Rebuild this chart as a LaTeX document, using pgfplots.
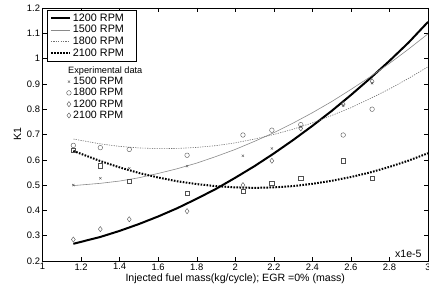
\documentclass[border=0pt]{standalone}
\usepackage{pgfplots}
\pgfplotsset{compat=1.18}
\usepackage{fontspec}
\setmainfont{Liberation Sans}
\definecolor{lgray}{HTML}{8A8A8A}
\definecolor{mgray}{HTML}{707070}
\definecolor{mk}{HTML}{505050}
\pgfplotsset{
  common/.style={
    scale only axis, width=385.5bp, height=253bp,
    xmin=1, xmax=3, ymin=0.2, ymax=1.2,
  }
}
\begin{document}
\begin{tikzpicture}
\begin{axis}[common,
  xtick={1,1.2,...,3.01}, ytick={0.2,0.3,...,1.21},
  tick pos=both, tick align=inside, major tick length=4bp,
  tick style={line width=0.4bp, black},
  axis line style={line width=0.5bp},
  /pgf/number format/assume math mode=true,
  /pgf/number format/fixed,
  ticklabel style={font=\fontsize{9.4bp}{10bp}\selectfont},
  yticklabel style={xshift=1bp},
  xticklabel style={yshift=1bp},
  xlabel={Injected fuel mass(kg/cycle); EGR =0\% (mass)},
  ylabel={K1},
  label style={font=\fontsize{10.6bp}{12bp}\selectfont},
  xlabel style={yshift=3bp},
  ylabel style={yshift=-1bp},
  legend style={at={(0.011,0.992)}, anchor=north west, draw=black, line width=0.5bp,
    font=\fontsize{10.8bp}{11.7bp}\selectfont, inner xsep=3bp, inner ysep=1.5bp,
    row sep=-1.4bp, cells={anchor=west}},
  legend cell align=left,
  legend image code/.code={\draw[#1] (0bp,0bp) -- (19bp,0bp);},
]
\addplot[black, line width=2bp] coordinates {
(1.16,0.268)(1.3,0.295)(1.4,0.319)(1.5,0.346)(1.6,0.376)(1.7,0.409)(1.8,0.446)(1.9,0.485)(2.0,0.529)(2.1,0.575)(2.2,0.625)(2.3,0.678)(2.4,0.734)(2.5,0.793)(2.6,0.856)(2.7,0.922)(2.8,0.991)(2.9,1.064)(3.0,1.145)};
\addlegendentry{1200 RPM\hspace*{7bp}}
\addplot[lgray, line width=0.6bp] coordinates {
(1.16,0.498)(1.3,0.507)(1.4,0.516)(1.5,0.529)(1.6,0.546)(1.7,0.565)(1.8,0.587)(1.9,0.613)(2.0,0.641)(2.1,0.673)(2.2,0.707)(2.3,0.745)(2.4,0.786)(2.5,0.830)(2.6,0.878)(2.7,0.928)(2.8,0.981)(2.9,1.038)(3.0,1.098)};
\addlegendentry{1500 RPM}
\addplot[mgray, line width=0.6bp, dash pattern=on 1.2bp off 1.2bp] coordinates {
(1.16,0.682)(1.3,0.663)(1.4,0.653)(1.5,0.647)(1.6,0.644)(1.7,0.645)(1.8,0.649)(1.9,0.656)(2.0,0.667)(2.1,0.682)(2.2,0.700)(2.3,0.721)(2.4,0.746)(2.5,0.775)(2.6,0.806)(2.7,0.842)(2.8,0.880)(2.9,0.922)(3.0,0.968)};
\addlegendentry{1800 RPM}
\addplot[black, line width=2bp, dash pattern=on 1.6bp off 1.4bp] coordinates {
(1.16,0.635)(1.3,0.595)(1.4,0.570)(1.5,0.548)(1.6,0.530)(1.7,0.515)(1.8,0.504)(1.9,0.496)(2.0,0.491)(2.1,0.489)(2.2,0.491)(2.3,0.496)(2.4,0.505)(2.5,0.517)(2.6,0.532)(2.7,0.550)(2.8,0.572)(2.9,0.597)(3.0,0.626)};
\addlegendentry{2100 RPM}
\node[anchor=south east, inner sep=0pt, font=\fontsize{10.6bp}{12bp}\selectfont] at (rel axis cs:0.984,0.014) {x1e-5};
\end{axis}
\begin{axis}[common, hide axis,
  legend style={at={(0.046,0.777)}, anchor=north west, draw=none, fill=none,
    font=\fontsize{10.6bp}{10.5bp}\selectfont, inner sep=0bp,
    row sep=-1.6bp, cells={anchor=west}},
  legend cell align=left,
  every axis plot/.append style={only marks, mk, mark options={line width=0.4bp, fill=none}},
]
\addlegendimage{empty legend}
\addlegendentry{\hspace*{-5bp}\fontsize{9.2bp}{10bp}\selectfont Experimental data}
\addplot[mark=x, mark size=1.6bp] coordinates {
(1.16,0.50)(1.30,0.527)(1.45,0.566)(1.75,0.575)(2.04,0.616)(2.19,0.645)(2.34,0.73)(2.56,0.815)(2.71,0.903)};
\addlegendentry{1500 RPM}
\addplot[mark=o, mark size=2.3bp] coordinates {
(1.16,0.657)(1.30,0.648)(1.45,0.641)(1.75,0.618)(2.04,0.698)(2.19,0.717)(2.34,0.739)(2.56,0.698)(2.71,0.80)};
\addlegendentry{1800 RPM}
\addplot[mark=diamond, mark size=2.6bp] coordinates {
(1.16,0.285)(1.30,0.326)(1.45,0.365)(1.75,0.397)(2.04,0.50)(2.19,0.596)(2.34,0.724)(2.56,0.82)(2.71,0.91)};
\addlegendentry{1200 RPM}
\addlegendimage{only marks, mk, mark=diamond, mark size=2.6bp, mark options={line width=0.4bp}}
\addlegendentry{2100 RPM}
\addplot[forget plot, mark=square, mark size=2.2bp] coordinates {
(1.16,0.638)(1.30,0.576)(1.45,0.516)(1.75,0.468)(2.04,0.475)(2.19,0.507)(2.34,0.527)(2.56,0.596)(2.71,0.527)};
\end{axis}
\pgfresetboundingbox
\path ([shift={(-42.5bp,-31bp)}]current axis.south west) rectangle ([shift={(1bp,8bp)}]current axis.north east);
\end{tikzpicture}
\end{document}
